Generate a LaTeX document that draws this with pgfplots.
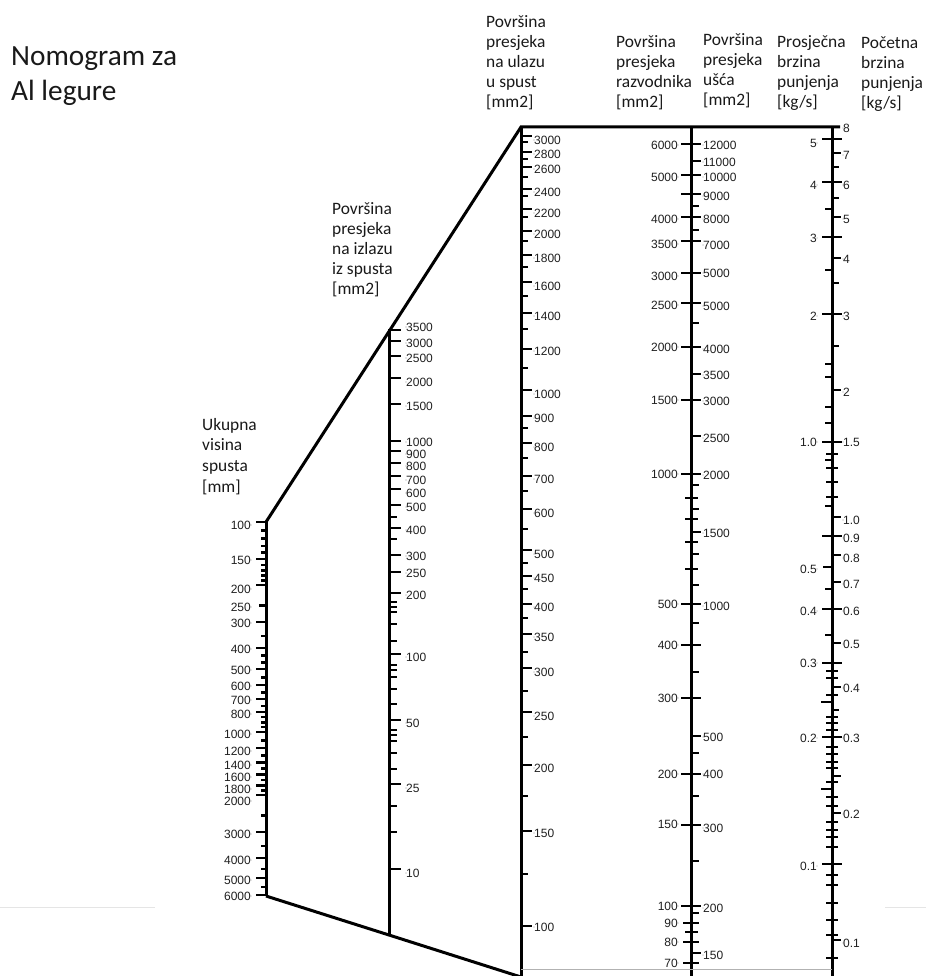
\documentclass[border=0pt]{standalone}
\usepackage{fontspec}
\setmainfont{Liberation Sans}
\newfontfamily\hfont{Carlito}
\usepackage{pgfplots}
\pgfplotsset{compat=1.18}

\pgfplotsset{
  frame/.style={black, line width=3pt, line join=miter},
  ticks/.style={black, line width=2.6pt, quiver={u=\thisrow{u}, v=0}},
  lbl/.style={only marks, mark=*, mark size=0.01pt, mark options={draw=none, fill=none},
    point meta=explicit symbolic, nodes near coords={\pgfplotspointmeta}},
  lblE/.style={lbl, every node near coord/.append style={anchor=east, inner sep=0pt,
    font=\fontsize{12}{12}\selectfont, text=black!88}},
  lblW/.style={lbl, every node near coord/.append style={anchor=west, inner sep=0pt,
    font=\fontsize{12}{12}\selectfont, text=black!88}},
}
\tikzset{
  hdr/.style={anchor=base west, inner sep=0pt, text=black!90, font=\hfont\fontsize{17.4}{20}\selectfont},
  ttl/.style={anchor=base west, inner sep=0pt, text=black!90, font=\hfont\fontsize{29.3}{35}\selectfont},
}

\begin{document}
\begin{tikzpicture}
\begin{axis}[
  scale only axis, width=926pt, height=976pt,
  xmin=0, xmax=926, ymin=0, ymax=976, y dir=reverse,
  hide axis, clip=false,
]
\coordinate (SW) at (axis cs:0,976);
\coordinate (NE) at (axis cs:926,0);

% outline of the nomogram
\addplot[frame] coordinates {(266,522) (521,127) (840,127)};
\addplot[frame] coordinates {(266,896) (389,935) (521,977)};
\addplot[frame] coordinates {(266,522) (266,896)};
\addplot[frame] coordinates {(389,329) (389,935)};
\addplot[frame] coordinates {(521,127) (521,977)};
\addplot[frame] coordinates {(691,127) (691,977)};
\addplot[frame] coordinates {(832,127) (832,977)};
\addplot[gray!60, line width=0.8pt] coordinates {(521,969) (832,969)};
\addplot[gray!20, line width=0.8pt] coordinates {(0,907) (155,907)};
\addplot[gray!20, line width=0.8pt] coordinates {(885,907) (926,907)};

% scale 1: Ukupna visina spusta
\addplot[ticks] table {
x y u
266 522 -10
266 559 -10
266 585 -10
266 605.5 -7
266 622 -10
266 648 -10
266 669 -10
266 685 -10
266 699 -10
266 712 -10
266 732 -10
266 748 -10
266 762.5 -10
266 774.5 -10
266 785.5 -10
266 795 -10
266 832 -10
266 858 -10
266 878 -10
266 895 -10
267 530.7 -6
267 538.6 -6
267 545.9 -6
267 552.7 -6
267 564.8 -6
267 570.3 -6
267 575.6 -6
267 580.5 -6
267 636 -6
267 655.5 -6
267 662.4 -6
267 677.3 -6
267 692.6 -6
267 705.8 -6
267 717 -6
267 722.2 -6
267 727 -6
267 740.5 -6
267 755.7 -6
267 768.7 -6
267 780.1 -6
267 790.3 -6
267 815.3 -6
267 846 -6
267 868.8 -6
267 887.1 -6
};
\addplot[lblE] table[meta=l] {
x y l
251 525 100
251 560 150
251 589 200
251 607 250
251 623 300
251 649 400
251 670 500
251 686 600
251 700 700
251 714 800
251 734 1000
251 751 1200
251 765 1400
251 777 1600
251 789 1800
251 801 2000
251 834 3000
251 860 4000
251 880 5000
251 896 6000
};

% scale 2: izlaz iz spusta
\addplot[ticks] table {
x y u
389 330 12
389 341 12
389 356 12
389 378 12
389 404 12
389 441 12
389 451 12
389 463 12
389 476 12
389 489 12
389 505 12
389 528 12
389 555 12
389 572 12
389 593 12
389 654 12
389 720 12
389 784 12
389 869 12
389 517 8
389 539 8
389 602 8
389 607 8
389 612 8
389 624 8
389 641 8
389 665 8
389 670 8
389 677 8
389 689 8
389 704 8
389 730 8
389 735 8
389 741 8
389 753 8
389 769 8
389 806 8
389 832 8
};
\addplot[lblW] table[meta=l] {
x y l
406 327 3500
406 343 3000
406 358 2500
406 382 2000
406 406 1500
406 442 1000
406 454 900
406 466 800
406 480 700
406 493 600
406 507 500
406 530 400
406 556 300
406 573 250
406 595 200
406 657 100
406 723 50
406 788 25
406 873 10
};

% scale 3: ulaz u spust
\addplot[ticks] table {
x y u
521 136 11
521 152 11
521 167 11
521 189 11
521 209 11
521 231 11
521 255 11
521 282 11
521 313 11
521 349 11
521 390 11
521 416 11
521 443 11
521 476 11
521 509 11
521 550 11
521 576 11
521 604 11
521 634 11
521 668 11
521 712 11
521 765 11
521 831 11
521 926 11
521 142 7
521 159 7
521 177 7
521 196 7
521 217 7
521 241 7
521 267 7
521 296 7
521 329 7
521 368 7
521 428 7
521 458 7
521 491 7
521 529 7
521 563 7
521 589 7
521 618 7
521 652 7
521 691 7
521 737 7
521 796 7
521 874 7
};
\addplot[lblW] table[meta=l] {
x y l
534 140 3000
534 154 2800
534 169 2600
534 192 2400
534 213 2200
534 234 2000
534 258 1800
534 286 1600
534 316 1400
534 351 1200
534 394 1000
534 418 900
534 447 800
534 479 700
534 513 600
534 554 500
534 578 450
534 607 400
534 637 350
534 672 300
534 716 250
534 768 200
534 833 150
534 927 100
};

% scale 4: razvodnik (left) / usce (right)
\addplot[ticks] table {
x y u
681 144 20
681 175 20
681 194 20
681 217 20
681 241 20
681 273 20
681 303 20
681 347 20
681 400 20
681 474 20
681 604 20
681 645 20
681 698 20
681 774 20
681 825 20
681 906 20
683 923 16
683 942 16
683 963 16
691 161 10
691 374 10
691 436 10
691 532 10
691 736 10
691 953 10
691 206 8
691 230 8
691 323 8
691 485 8
691 509 8
691 554 8
691 585 8
691 623 8
691 672 8
691 753 8
691 796 8
691 861 8
691 913 8
685 498 13
685 519 13
685 542 13
685 569 13
685 932 13
};
\addplot[lblE] table[meta=l] {
x y l
678 145 6000
678 177 5000
678 219 4000
678 244 3500
678 276 3000
678 305 2500
678 347 2000
678 400 1500
678 474 1000
678 604 500
678 645 400
678 698 300
678 774 200
678 824 150
678 906 100
678 923 90
678 942 80
678 963 70
};
\addplot[lblW] table[meta=l] {
x y l
703 145 12000
703 162 11000
703 177 10000
703 196 9000
703 219 8000
703 245 7000
703 273 5000
703 306 5000
703 349 4000
703 375 3500
703 401 3000
703 438 2500
703 475 2000
703 533 1500
703 606 1000
703 737 500
703 774 400
703 828 300
703 908 200
703 955 150
};

% scale 5: prosjecna (left) / pocetna (right) brzina punjenja
\addplot[ticks] table {
x y u
822 139 20
822 182 20
822 237 20
822 314 20
822 442 20
822 536 20
822 609 20
822 663 20
822 737 20
822 864 20
832 153 9
832 217 9
832 258 9
832 390 9
832 517 9
832 555 9
832 582 9
832 643 9
832 687 9
832 776 9
832 813 9
832 940 9
832 567 -9
832 702 -11
832 789 -11
832 167 7
832 198 7
832 283 7
832 346 7
832 710 7
832 209 -7
832 270 -7
832 364 -7
832 377 -7
832 407 -7
832 423 -7
832 460 -7
832 506 -7
832 589 -7
832 635 -7
826 454 12
826 468 12
826 482 12
826 497 12
826 671 12
826 678 12
826 695 12
826 717 12
826 723 12
826 730 12
826 747 12
826 754 12
826 762 12
826 768 12
826 782 12
826 797 12
826 806 12
826 822 12
826 830 12
826 837 12
826 847 12
826 875 12
826 885 12
826 903 12
826 920 12
826 935 12
826 958 12
};
\addplot[lblE] table[meta=l] {
x y l
817 143 5
817 185 4
817 238 3
817 316 2
817 442 1.0
817 569 0.5
817 611 0.4
817 663 0.3
817 738 0.2
817 866 0.1
};
\addplot[lblW] table[meta=l] {
x y l
843 128 8
843 155 7
843 185 6
843 219 5
843 259 4
843 316 3
843 392 2
843 442 1.5
843 520 1.0
843 538 0.9
843 558 0.8
843 584 0.7
843 611 0.6
843 644 0.5
843 688 0.4
843 738 0.3
843 814 0.2
843 943 0.1
};

% title and scale headings
\node[ttl] at (axis cs:11,66) {Nomogram za};
\node[ttl] at (axis cs:11,101) {Al legure};

\node[hdr] at (axis cs:202,430) {Ukupna};
\node[hdr] at (axis cs:202,450) {visina};
\node[hdr] at (axis cs:202,471) {spusta};
\node[hdr] at (axis cs:202,492) {[mm]};

\node[hdr] at (axis cs:332,214.5) {Površina};
\node[hdr] at (axis cs:332,234.5) {presjeka};
\node[hdr] at (axis cs:332,254.5) {na izlazu};
\node[hdr] at (axis cs:332,274.5) {iz spusta};
\node[hdr] at (axis cs:332,294.5) {[mm2]};

\node[hdr] at (axis cs:486,27.5) {Površina};
\node[hdr] at (axis cs:486,47.5) {presjeka};
\node[hdr] at (axis cs:486,67.5) {na ulazu};
\node[hdr] at (axis cs:486,88) {u spust};
\node[hdr] at (axis cs:486,107.5) {[mm2]};

\node[hdr] at (axis cs:616,47.5) {Površina};
\node[hdr] at (axis cs:616,67.5) {presjeka};
\node[hdr] at (axis cs:616,87.5) {razvodnika};
\node[hdr] at (axis cs:616,107.5) {[mm2]};

\node[hdr] at (axis cs:703,46) {Površina};
\node[hdr] at (axis cs:703,66) {presjeka};
\node[hdr] at (axis cs:703,86) {ušća};
\node[hdr] at (axis cs:703,106) {[mm2]};

\node[hdr] at (axis cs:777,47.5) {Prosječna};
\node[hdr] at (axis cs:777,67.5) {brzina};
\node[hdr] at (axis cs:777,87.5) {punjenja};
\node[hdr] at (axis cs:777,108) {[kg/s]};

\node[hdr] at (axis cs:861,48.5) {Početna};
\node[hdr] at (axis cs:861,68.5) {brzina};
\node[hdr] at (axis cs:861,89) {punjenja};
\node[hdr] at (axis cs:861,109) {[kg/s]};
\end{axis}
\pgfresetboundingbox
\path (SW) rectangle (NE);
\end{tikzpicture}
\end{document}
